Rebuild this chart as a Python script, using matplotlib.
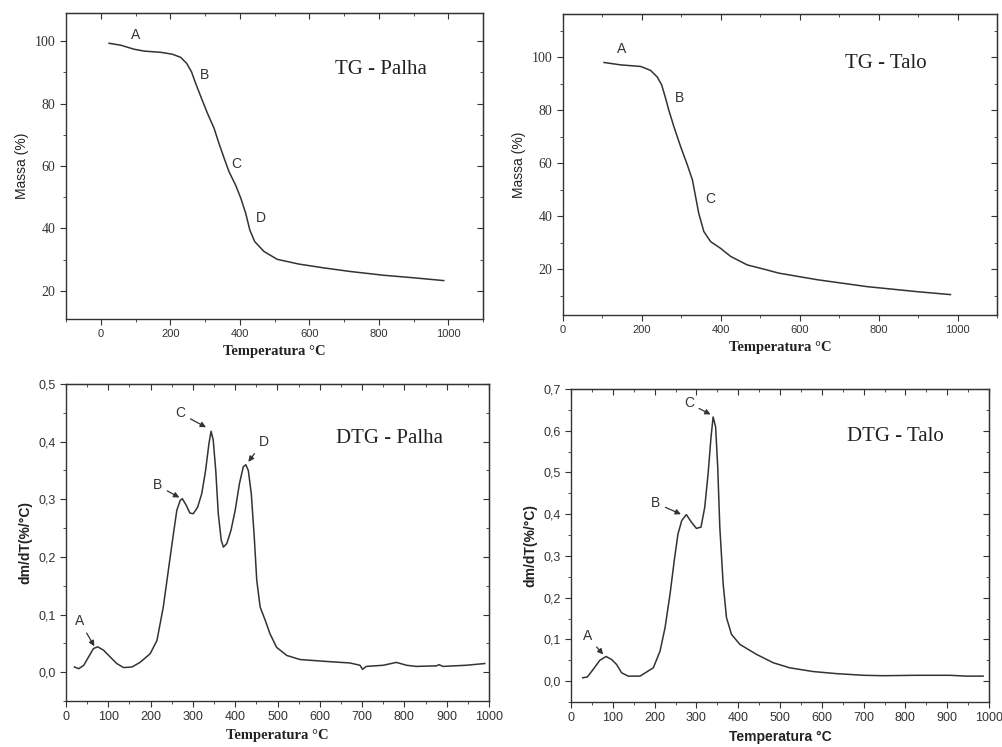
import numpy as np
import matplotlib
matplotlib.use("Agg")
import matplotlib.pyplot as plt
from matplotlib.ticker import MultipleLocator, FuncFormatter

# ---- dados ----
# TG palha
t_tg_palha = [24, 57, 96, 125, 173, 206, 230, 247, 261, 273, 288, 307, 326, 340, 355,
              369, 388, 403, 417, 429, 443, 470, 508, 570, 640, 719, 815, 900, 987]
m_tg_palha = [99.3, 98.7, 97.4, 96.8, 96.4, 95.8, 94.8, 92.9, 90.2, 86.5, 82.2, 76.9,
              72.1, 67.3, 62.5, 58.2, 53.9, 49.7, 44.9, 39.5, 35.8, 32.6, 30.1, 28.6,
              27.4, 26.2, 25.0, 24.2, 23.3]

# TG talo
t_tg_talo = [104, 146, 197, 222, 239, 250, 260, 268, 281, 298, 315, 328, 336, 344,
             357, 374, 399, 425, 467, 517, 547, 645, 771, 898, 982]
m_tg_talo = [98.0, 97.1, 96.5, 95.0, 92.5, 89.6, 84.5, 80.1, 73.8, 66.3, 59.4, 53.7,
             47.4, 41.1, 34.2, 30.4, 27.9, 24.8, 21.6, 19.7, 18.5, 16.0, 13.4, 11.5, 10.4]

# DTG palha
t_dtg_palha = [20, 30, 42, 53, 65, 75, 89, 105, 120, 136, 156, 175, 199, 215, 230,
               242, 253, 262, 270, 275, 284, 293, 301, 311, 321, 330, 338, 343, 348,
               354, 360, 367, 372, 380, 390, 400, 410, 419, 425, 431, 438, 445, 451,
               459, 471, 482, 498, 522, 553, 608, 671, 695, 701, 710, 750, 781, 805,
               828, 876, 882, 891, 946, 990]
d_dtg_palha = [0.009, 0.006, 0.012, 0.026, 0.041, 0.044, 0.038, 0.026, 0.015, 0.008,
               0.009, 0.017, 0.032, 0.055, 0.113, 0.177, 0.235, 0.281, 0.298, 0.301,
               0.290, 0.276, 0.275, 0.286, 0.310, 0.350, 0.397, 0.418, 0.403, 0.350,
               0.275, 0.229, 0.217, 0.223, 0.246, 0.281, 0.327, 0.356, 0.360, 0.350,
               0.310, 0.235, 0.159, 0.113, 0.090, 0.067, 0.043, 0.029, 0.022, 0.019,
               0.016, 0.012, 0.005, 0.010, 0.012, 0.017, 0.012, 0.010, 0.011, 0.013,
               0.010, 0.012, 0.015]

# DTG talo
t_dtg_talo = [28, 39, 53, 69, 84, 97, 109, 121, 137, 165, 197, 213, 225, 237, 247,
              256, 265, 276, 288, 300, 311, 320, 328, 335, 340, 346, 351, 356, 364,
              372, 384, 404, 444, 484, 523, 579, 635, 700, 747, 826, 906, 946, 986]
d_dtg_talo = [0.008, 0.010, 0.028, 0.050, 0.059, 0.052, 0.040, 0.020, 0.012, 0.012,
              0.032, 0.072, 0.128, 0.209, 0.289, 0.353, 0.385, 0.399, 0.381, 0.366,
              0.369, 0.417, 0.497, 0.585, 0.633, 0.609, 0.513, 0.369, 0.233, 0.152,
              0.112, 0.088, 0.064, 0.044, 0.032, 0.023, 0.018, 0.014, 0.013, 0.014,
              0.014, 0.012, 0.012]

SERIF = "Liberation Serif"
SANS = "Liberation Sans"
COR = "#333333"

fig = plt.figure(figsize=(10.02, 7.47), dpi=100)
W, H = 1002.0, 747.0


def eixo(l, r, t, b):
    return fig.add_axes([l / W, 1 - b / H, (r - l) / W, (b - t) / H])


def estilo(ax):
    for s in ax.spines.values():
        s.set_color(COR)
        s.set_linewidth(1.0)
    ax.tick_params(which="both", direction="out", color=COR, labelcolor=COR)
    ax.tick_params(which="major", length=4)
    ax.tick_params(which="minor", length=2.5)
    sec_x = ax.secondary_xaxis("top")
    sec_y = ax.secondary_yaxis("right")
    for sec in (sec_x, sec_y):
        sec.tick_params(which="both", direction="in", color=COR, labelsize=0)
        sec.tick_params(which="major", length=4)
        sec.tick_params(which="minor", length=2.5)
    sec_x.set_xticks(ax.get_xticks())
    sec_x.xaxis.set_minor_locator(ax.xaxis.get_minor_locator())
    sec_x.set_xticklabels([])
    sec_y.set_yticks(ax.get_yticks())
    sec_y.yaxis.set_minor_locator(ax.yaxis.get_minor_locator())
    sec_y.set_yticklabels([])


virgula = FuncFormatter(lambda v, p: f"{v:.1f}".replace(".", ","))

# ---- TG Palha ----
ax1 = eixo(66, 483, 13, 319)
ax1.plot(t_tg_palha, m_tg_palha, color=COR, lw=1.1)
ax1.set_xlim(-100, 1100)
ax1.set_ylim(11, 109)
ax1.set_xticks([0, 200, 400, 600, 800, 1000])
ax1.xaxis.set_minor_locator(MultipleLocator(100))
ax1.set_yticks([20, 40, 60, 80, 100])
ax1.yaxis.set_minor_locator(MultipleLocator(10))
ax1.set_xlabel("Temperatura °C", family=SERIF, weight="bold", fontsize=10.5, color="#222222")
ax1.set_ylabel("Massa (%)", family=SANS, fontsize=10, color="#222222")
for lab in ax1.get_xticklabels():
    lab.set_family(SANS); lab.set_fontsize(8)
for lab in ax1.get_yticklabels():
    lab.set_family(SERIF); lab.set_fontsize(10)
for txt, x, y in [("A", 101, 102.1), ("B", 299, 89.1), ("C", 391, 60.6), ("D", 462, 43.3)]:
    ax1.text(x, y, txt, family=SANS, fontsize=10, color=COR, ha="center", va="center")
ax1.text(805, 91, "TG - Palha", family=SERIF, fontsize=15, color="#222222",
         ha="center", va="center")
estilo(ax1)

# ---- TG Talo ----
ax2 = eixo(563, 997, 14, 315)
ax2.plot(t_tg_talo, m_tg_talo, color=COR, lw=1.1)
ax2.set_xlim(0, 1100)
ax2.set_ylim(2.7, 116.3)
ax2.set_xticks([0, 200, 400, 600, 800, 1000])
ax2.xaxis.set_minor_locator(MultipleLocator(100))
ax2.set_yticks([20, 40, 60, 80, 100])
ax2.yaxis.set_minor_locator(MultipleLocator(10))
ax2.set_xlabel("Temperatura °C", family=SERIF, weight="bold", fontsize=10.5, color="#222222")
ax2.set_ylabel("Massa (%)", family=SANS, fontsize=10, color="#222222")
for lab in ax2.get_xticklabels():
    lab.set_family(SANS); lab.set_fontsize(8)
for lab in ax2.get_yticklabels():
    lab.set_family(SERIF); lab.set_fontsize(10)
for txt, x, y in [("A", 148, 103), ("B", 296, 84.5), ("C", 372, 46.5)]:
    ax2.text(x, y, txt, family=SANS, fontsize=10, color=COR, ha="center", va="center")
ax2.text(819, 97.8, "TG - Talo", family=SERIF, fontsize=15, color="#222222",
         ha="center", va="center")
estilo(ax2)

seta = dict(arrowstyle="-|>", color=COR, lw=0.9, mutation_scale=8, shrinkA=2, shrinkB=0)

# ---- DTG Palha ----
ax3 = eixo(66, 489, 384, 701)
ax3.plot(t_dtg_palha, d_dtg_palha, color=COR, lw=1.1)
ax3.set_xlim(0, 1000)
ax3.set_ylim(-0.05, 0.5)
ax3.xaxis.set_major_locator(MultipleLocator(100))
ax3.xaxis.set_minor_locator(MultipleLocator(50))
ax3.yaxis.set_major_locator(MultipleLocator(0.1))
ax3.yaxis.set_minor_locator(MultipleLocator(0.05))
ax3.yaxis.set_major_formatter(virgula)
ax3.set_xlabel("Temperatura °C", family=SERIF, weight="bold", fontsize=10.5, color="#222222")
ax3.set_ylabel("dm/dT(%/°C)", family=SANS, weight="bold", fontsize=10, color="#222222")
for lab in ax3.get_xticklabels() + ax3.get_yticklabels():
    lab.set_family(SANS); lab.set_fontsize(9)
for txt, tx, ty, px, py in [("A", 32, 0.089, 67, 0.045), ("B", 216, 0.324, 268, 0.303),
                            ("C", 270, 0.449, 331, 0.425), ("D", 467, 0.40, 431, 0.365)]:
    ax3.annotate(txt, xy=(px, py), xytext=(tx, ty), family=SANS, fontsize=10, color=COR,
                 ha="center", va="center", arrowprops=seta)
ax3.text(765, 0.405, "DTG - Palha", family=SERIF, fontsize=15, color="#222222",
         ha="center", va="center")
estilo(ax3)

# ---- DTG Talo ----
ax4 = eixo(571, 989, 389, 702)
ax4.plot(t_dtg_talo, d_dtg_talo, color=COR, lw=1.1)
ax4.set_xlim(0, 1000)
ax4.set_ylim(-0.05, 0.7)
ax4.xaxis.set_major_locator(MultipleLocator(100))
ax4.xaxis.set_minor_locator(MultipleLocator(50))
ax4.yaxis.set_major_locator(MultipleLocator(0.1))
ax4.yaxis.set_minor_locator(MultipleLocator(0.05))
ax4.yaxis.set_major_formatter(virgula)
ax4.set_xlabel("Temperatura °C", family=SANS, weight="bold", fontsize=10, color="#222222")
ax4.set_ylabel("dm/dT(%/°C)", family=SANS, weight="bold", fontsize=10, color="#222222")
for lab in ax4.get_xticklabels() + ax4.get_yticklabels():
    lab.set_family(SANS); lab.set_fontsize(9)
for txt, tx, ty, px, py in [("A", 39, 0.107, 77, 0.064), ("B", 202, 0.427, 263, 0.40),
                            ("C", 282, 0.666, 334, 0.639)]:
    ax4.annotate(txt, xy=(px, py), xytext=(tx, ty), family=SANS, fontsize=10, color=COR,
                 ha="center", va="center", arrowprops=seta)
ax4.text(776, 0.585, "DTG - Talo", family=SERIF, fontsize=15, color="#222222",
         ha="center", va="center")
estilo(ax4)

fig.savefig("out.png", dpi=100)
